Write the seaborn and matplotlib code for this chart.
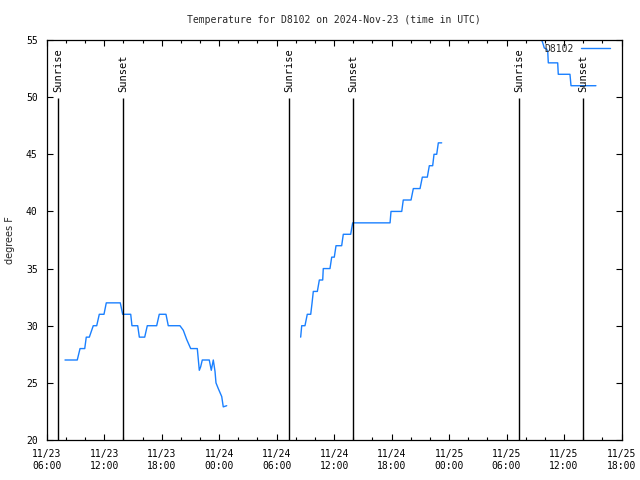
import matplotlib
matplotlib.use('Agg')
import matplotlib.pyplot as plt
import matplotlib.dates as mdates
import numpy as np
import pandas as pd
import seaborn as sns

START = pd.Timestamp("2024-11-23 06:00")
END = pd.Timestamp("2024-11-25 18:00")
STATION = "D8102"

# hours since 11/23 06:00, temperature in degrees F, one list per data run
seg1_hours = [1.91, 3.19, 3.48, 3.97, 4.13, 4.45, 4.86, 5.22, 5.49, 5.98, 6.22, 7.68,
              7.93, 8.77, 8.90, 9.50, 9.67, 10.23, 10.50, 11.48, 11.75, 12.45, 12.69,
              13.91, 14.26, 14.61, 15.03, 15.72, 15.93, 16.07, 16.24, 16.97, 17.18,
              17.39, 17.57, 17.67, 17.91, 18.27, 18.43, 18.79]
seg1_temps = [27, 27, 28, 28, 29, 29, 30, 30, 31, 31, 32, 32,
              31, 31, 30, 30, 29, 29, 30, 30, 31, 31, 30,
              30, 29.6, 28.8, 28, 28, 26.1, 26.4, 27, 27, 26.1,
              27, 26, 25, 24.5, 23.8, 22.9, 23]

seg2_hours = [26.51, 26.62, 26.96, 27.20, 27.56, 27.70, 27.83, 28.25, 28.46, 28.81,
              28.87, 29.57, 29.75, 30.02, 30.20, 30.79, 30.96, 31.73, 31.94, 35.84,
              35.94, 37.06, 37.22, 38.03, 38.27, 38.97, 39.21, 39.73, 39.94, 40.29,
              40.43, 40.71, 40.88, 41.23]
seg2_temps = [29, 30, 30, 31, 31, 32, 33, 33, 34, 34,
              35, 35, 36, 36, 37, 37, 38, 38, 39, 39,
              40, 40, 41, 41, 42, 42, 43, 43, 44, 44,
              45, 45, 46, 46]

seg3_hours = [51.55, 51.67, 51.80, 51.94, 52.19, 52.30, 52.36, 53.34, 53.40, 54.62,
              54.73, 57.33]
seg3_temps = [55.4, 55.0, 54.7, 54.3, 54.2, 54.0, 53.0, 53.0, 52.0, 52.0,
              51.0, 51.0]

sunrise_times = ["2024-11-23 07:13", "2024-11-24 07:19", "2024-11-25 07:20"]
sunset_times = ["2024-11-23 14:00", "2024-11-24 14:00", "2024-11-25 14:00"]

LINE_COLOR = "#1a80ff"

sns.set_theme(style="ticks")
plt.rcParams['font.family'] = ['DejaVu Sans Mono']
plt.rcParams['font.size'] = 7

fig = plt.figure(figsize=(6.4, 4.8), dpi=100)
ax = fig.add_axes([46.7 / 640, 40 / 480, 574.8 / 640, 400 / 480])

segments = [(seg1_hours, seg1_temps), (seg2_hours, seg2_temps), (seg3_hours, seg3_temps)]
for i, (hrs, temps) in enumerate(segments):
    df = pd.DataFrame({
        "time": START + pd.to_timedelta(hrs, unit="h"),
        "temp": temps,
    })
    sns.lineplot(data=df, x="time", y="temp", ax=ax, color=LINE_COLOR, lw=1.0,
                 label=STATION if i == 0 else None, legend=False)

# sunrise / sunset markers
for times, lab in [(sunrise_times, "Sunrise"), (sunset_times, "Sunset")]:
    for t in pd.to_datetime(times):
        ax.vlines(t, 20, 49.9, color="black", lw=1.0)
        ax.text(t, 50.45, lab, rotation=90, ha="center", va="bottom",
                fontsize=7.5, color="black")

ax.set_xlim(START, END)
ax.set_ylim(20, 55)
ax.set_yticks(np.arange(20, 56, 5))
ax.xaxis.set_major_locator(mdates.HourLocator(byhour=[0, 6, 12, 18]))
ax.xaxis.set_minor_locator(mdates.HourLocator(interval=2))
ax.xaxis.set_major_formatter(mdates.DateFormatter("%m/%d\n%H:%M"))

ax.tick_params(which="both", direction="in", top=True, right=True,
               colors="black", labelsize=7, width=0.8)
ax.tick_params(which="major", length=4.5, pad=6.5)
ax.tick_params(which="minor", length=2.5)
for s in ax.spines.values():
    s.set_linewidth(0.9)
    s.set_color("black")

ax.set_xlabel("")
ax.set_ylabel("degrees F", fontsize=7, labelpad=8,
              family=["DejaVu Sans"])
ax.set_title(f"Temperature for {STATION} on 2024-Nov-23 (time in UTC)",
             fontsize=7, pad=12)

ax.legend(loc="upper right", frameon=False, markerfirst=False, handlelength=3.0,
          fontsize=7, bbox_to_anchor=(0.99, 1.005), borderaxespad=0.2,
          handletextpad=0.7)

fig.savefig("out.png", dpi=100)
